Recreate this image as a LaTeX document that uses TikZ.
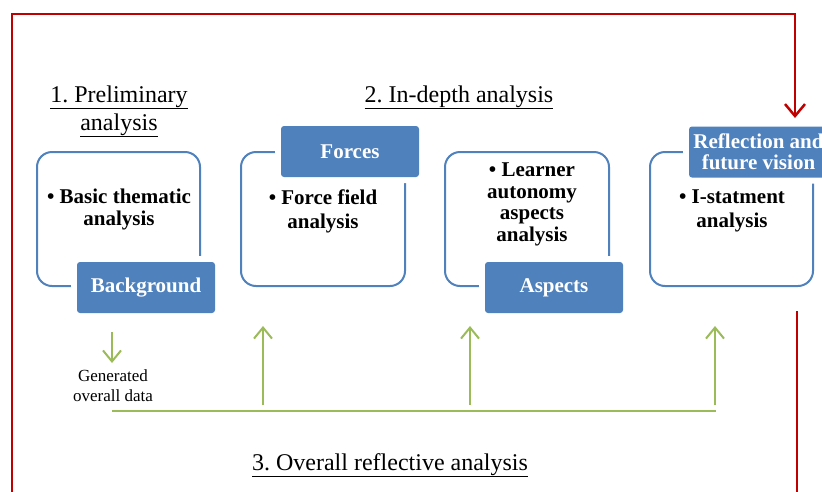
\documentclass[tikz,border=0pt]{standalone}
\usepackage{fontspec}
\setmainfont{Liberation Serif}
\usetikzlibrary{positioning}
\usetikzlibrary{arrows.meta}
\definecolor{redline}{RGB}{192,0,0}
\definecolor{blueish}{RGB}{79,129,189}
\definecolor{greenish}{RGB}{155,187,89}
\frenchspacing

\tikzset{
    frame/.style={draw=redline, line width=2.5pt},
    stage/.style={draw=blueish, line width=2pt, rounded corners=15pt},
    header/.style={fill=blueish, text=white, rounded corners=3pt, inner sep=0pt,
        minimum width=138pt, minimum height=51pt, align=center,
        font=\bfseries\fontsize{21}{21}\selectfont,
        preaction={draw=white, line width=12pt}},
    item/.style={inner sep=0pt, anchor=north, align=center,
        font=\bfseries\fontsize{21}{21.5}\selectfont},
    heading/.style={inner sep=0pt, anchor=base, align=center,
        font=\fontsize{24}{28}\selectfont},
    feed/.style={draw=greenish, line width=2pt},
    feedarrow/.style={feed, -{Straight Barb[length=11pt,width=18pt,line width=2pt]}},
}

\begin{document}
\begin{tikzpicture}[x=1pt,y=-1pt]
    \useasboundingbox (0,0) rectangle (822,491);
    \clip (0,0) rectangle (822,491);

    % outer red frame
    \coordinate (frameBL) at (12,495);
    \coordinate (frameTL) at (12,14);
    \coordinate (frameTR) at (795,14);
    \coordinate (frameTip) at (795,118);
    \coordinate (frameRA) at (797,311);
    \coordinate (frameRB) at (797,495);
    \draw[frame, -{Straight Barb[length=12pt,width=20pt,line width=2.5pt]}]
        (frameBL) -- (frameTL) -- (frameTR) -- (frameTip);
    \draw[frame] (frameRA) -- (frameRB);

    % headings
    \node[heading] (prelim) at (119,130) {\underline{1. Preliminary}\\\underline{analysis}};
    \node[heading] (depth) at (459,102) {\underline{2. In-depth analysis}};
    \node[heading] (overall) at (390,470) {\underline{3. Overall reflective analysis}};

    % stage outlines
    \draw[stage] (37,152) rectangle (200,286);
    \draw[stage] (241,152) rectangle (405,286);
    \draw[stage] (445,152) rectangle (609,286);
    \draw[stage] (650,152) rectangle (813,286);

    % stage contents
    \node[item] (basic) at (119,189) {\textbullet{} Basic thematic\\analysis};
    \node[item, font=\bfseries\fontsize{21}{23.5}\selectfont] (force) at (323,190) {\textbullet{} Force field\\analysis};
    \node[item] (learner) at (532,163) {\textbullet{} Learner\\autonomy\\aspects\\analysis};
    \node[item, font=\bfseries\fontsize{21}{23.5}\selectfont] (istate) at (732,190) {\textbullet{} I-statment\\analysis};

    % stage headers
    \node[header] (background) at (146,287.5) {Background};
    \node[header] (forces) at (350,151.5) {Forces};
    \node[header] (aspects) at (554,287.5) {Aspects};
    \node[header, minimum width=139pt] (reflect) at (758.5,152) {Reflection and\\future vision};

    % overall data flow
    \coordinate (dataTop) at (112,332);
    \coordinate (dataTip) at (112,363);
    \node[font=\fontsize{17}{20}\selectfont, align=center, inner sep=0pt, anchor=base] (generated) at (113,401) {Generated\\overall data};
    \coordinate (lineL) at (112,411);
    \coordinate (lineR) at (716,411);
    \draw[feedarrow] (dataTop) -- (dataTip);
    \draw[feed] (lineL) -- (lineR);
    \foreach \name/\x in {one/263,two/470,three/715} {
        \coordinate (up\name) at (\x,405);
        \coordinate (tip\name) at (\x,326);
        \draw[feedarrow] (up\name) -- (tip\name);
    }
\end{tikzpicture}
\end{document}
